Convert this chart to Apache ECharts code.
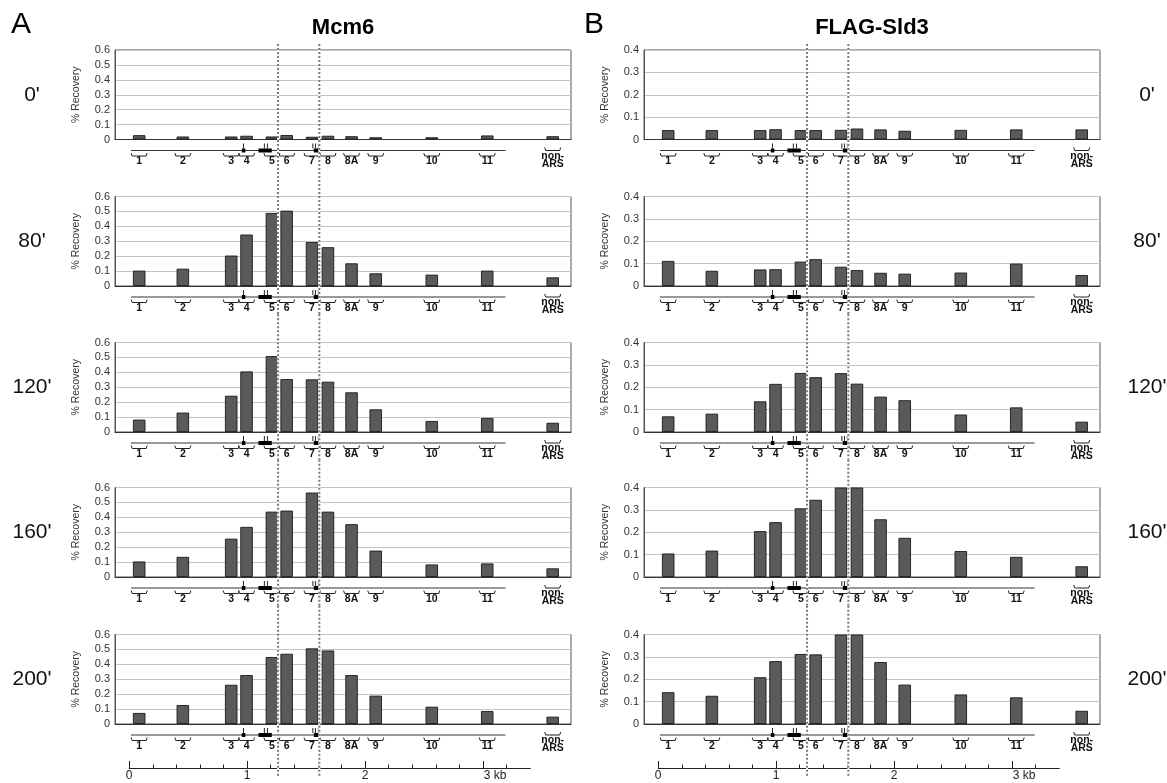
<!DOCTYPE html>
<html><head><meta charset="utf-8">
<script src="https://cdn.jsdelivr.net/npm/echarts@6/dist/echarts.min.js"></script>
<style>html,body{margin:0;padding:0;background:#fff}#c{width:1167px;height:783px}</style>
</head><body><div id="c"></div>
<script>
// ---------------- DATA ----------------
const primers = ['1','2','3','4','5','6','7','8','8A','9','10','11','non-\nARS'];
const primerKb = [0.085,0.455,0.865,0.995,1.21,1.335,1.55,1.685,1.885,2.09,2.565,3.035,3.59];
const timepoints = ["0'","80'","120'","160'","200'"];

const mcm6_0   = [0.029,0.020,0.020,0.025,0.020,0.030,0.018,0.025,0.022,0.015,0.015,0.027,0.022];
const mcm6_80  = [0.103,0.116,0.204,0.345,0.490,0.505,0.295,0.260,0.152,0.085,0.076,0.103,0.058];
const mcm6_120 = [0.083,0.130,0.243,0.406,0.509,0.355,0.353,0.337,0.266,0.152,0.074,0.094,0.062];
const mcm6_160 = [0.104,0.135,0.257,0.336,0.438,0.445,0.566,0.438,0.354,0.177,0.084,0.091,0.058];
const mcm6_200 = [0.074,0.127,0.263,0.328,0.449,0.471,0.507,0.493,0.328,0.190,0.116,0.087,0.049];

const sld3_0   = [0.042,0.042,0.042,0.046,0.042,0.042,0.043,0.049,0.045,0.039,0.043,0.045,0.045];
const sld3_80  = [0.112,0.068,0.074,0.075,0.109,0.120,0.086,0.071,0.059,0.055,0.060,0.100,0.049];
const sld3_120 = [0.070,0.082,0.137,0.215,0.264,0.245,0.263,0.216,0.158,0.142,0.078,0.110,0.046];
const sld3_160 = [0.105,0.118,0.205,0.245,0.307,0.345,0.400,0.400,0.258,0.175,0.116,0.090,0.048];
const sld3_200 = [0.142,0.126,0.209,0.281,0.313,0.311,0.400,0.400,0.277,0.176,0.132,0.119,0.059];

// genomic map features (kb)
const mapLineKb = [0.015, 3.19];
const arsBoxesKb = [[0.955,0.985],[1.096,1.209],[1.565,1.607]];
const arsMarksKb = [0.969,1.146,1.172,1.557,1.579,1.604];
const dottedKb = [1.262, 1.612];
const kbMajor = [0,1,2,3];
const kbMinor = [0.2,0.4,0.6,0.8,1.2,1.4,1.6,1.8,2.2,2.4,2.6,2.8,3.2];
const kbScaleMax = 3.4;

// ---------------- LAYOUT ----------------
const FONT = '"Liberation Sans", Arial, Helvetica, sans-serif';
const rowTops = [50, 196.5, 342.5, 487.5, 634.5];
const plotH = 89.5;
const colLeft = [115, 644];
const plotW = 456;
const kbMin = -0.12, kbMax = 3.745;
const pxPerKb = plotW / (kbMax - kbMin);

const mcmRows = [mcm6_0, mcm6_80, mcm6_120, mcm6_160, mcm6_200];
const sldRows = [sld3_0, sld3_80, sld3_120, sld3_160, sld3_200];

function renderMap(params, api) {
  const p0 = api.coord([mapLineKb[0], 0]);
  const p1 = api.coord([mapLineKb[1], 0]);
  const ly = p0[1] + 11;
  const ch = [{type:'line', shape:{x1:p0[0], y1:ly, x2:p1[0], y2:ly}, style:{stroke:'#333', lineWidth:1}}];
  arsBoxesKb.forEach(b => {
    const a = api.coord([b[0], 0])[0], e = api.coord([b[1], 0])[0];
    ch.push({type:'rect', shape:{x:a, y:ly-2, width:e-a, height:4}, style:{fill:'#000'}});
  });
  arsMarksKb.forEach(m => {
    const x = api.coord([m, 0])[0];
    ch.push({type:'line', shape:{x1:x, y1:p0[1]+4, x2:x, y2:ly-2}, style:{stroke:'#222', lineWidth:1}});
  });
  return {type:'group', children:ch};
}

function renderBracket(params, api) {
  const i = params.dataIndex;
  const p = api.coord([api.value(0), 0]);
  const x = p[0], y0 = p[1];
  const nonArs = i === primers.length - 1;
  const by = y0 + (nonArs ? 11 : 16.5);
  const hw = 8;
  return {type:'group', children:[
    {type:'polyline', shape:{points:[[x-hw, by-3],[x-hw+1, by],[x+hw-1, by],[x+hw, by-3]]},
     style:{stroke:'#222', lineWidth:1, fill:null}},
    {type:'text', x:x, y:by+1.5, style:{text:primers[i], font:'bold 10.5px ' + FONT, fill:'#111',
     align:'center', verticalAlign:'top', lineHeight:8}}
  ]};
}

function makeDot(r) {
  return function(params, api) {
    const x = api.coord([api.value(0), 0])[0];
    const top = rowTops[r], bottom = rowTops[r] + plotH;
    const yT = r === 0 ? top - 6 : (rowTops[r-1] + plotH + top) / 2;
    const yB = r === 4 ? bottom + 53 : (bottom + rowTops[r+1]) / 2;
    return {type:'group', children:[
      {type:'line', shape:{x1:x, y1:yT, x2:x, y2:yB}, style:{stroke:'#fff', lineWidth:2}},
      {type:'line', shape:{x1:x, y1:yT, x2:x, y2:yB}, style:{stroke:'#7a7a7a', lineWidth:2, lineDash:[2,2]}}
    ]};
  };
}

const grids = [], xAxes = [], yAxes = [], series = [];
for (let c = 0; c < 2; c++) {
  for (let r = 0; r < 5; r++) {
    const g = grids.length;
    grids.push({left:colLeft[c], top:rowTops[r], width:plotW, height:plotH, show:true,
      borderColor:'#555', borderWidth:1, backgroundColor:'transparent', containLabel:false, outerBoundsMode:'none'});
    xAxes.push({gridIndex:g, type:'value', min:kbMin, max:kbMax, position:'bottom',
      axisLine:{show:true, onZero:false, lineStyle:{color:'#333', width:1}}, axisTick:{show:false},
      axisLabel:{show:false}, splitLine:{show:false}});
    yAxes.push({gridIndex:g, type:'value', min:0, max:c ? 0.4 : 0.6, interval:0.1, position:'left',
      name:'% Recovery', nameLocation:'middle', nameRotate:90, nameGap:33,
      nameTextStyle:{fontFamily:FONT, fontSize:10.5, color:'#333'},
      axisLine:{show:true, onZero:false, lineStyle:{color:'#555'}}, axisTick:{show:false},
      axisLabel:{fontFamily:FONT, fontSize:11, color:'#333', margin:5},
      splitLine:{show:true, lineStyle:{color:'#c4c4c4', width:1}}});
    const vals = (c ? sldRows : mcmRows)[r];
    series.push({type:'bar', xAxisIndex:g, yAxisIndex:g, barWidth:12.5, silent:true, z:2,
      data:primerKb.map((x, i) => [x, vals[i]]),
      itemStyle:{color:'#5a5a5a', borderColor:'#1a1a1a', borderWidth:0.9}});
    series.push({type:'custom', xAxisIndex:g, yAxisIndex:g, clip:false, silent:true, z:3,
      data:[[mapLineKb[0], 0]], renderItem:renderMap});
    series.push({type:'custom', xAxisIndex:g, yAxisIndex:g, clip:false, silent:true, z:3,
      data:primerKb.map(x => [x, 0]), renderItem:renderBracket});
    series.push({type:'custom', xAxisIndex:g, yAxisIndex:g, clip:false, silent:true, z:5,
      data:dottedKb.map(x => [x, 0]), renderItem:makeDot(r)});
  }
}
// kb scale bars
for (let c = 0; c < 2; c++) {
  const g = grids.length;
  grids.push({left:colLeft[c] + (0 - kbMin) * pxPerKb, top:767, width:kbScaleMax * pxPerKb, height:1,
    show:false, containLabel:false, outerBoundsMode:'none'});
  xAxes.push({gridIndex:g, type:'value', position:'bottom', min:0, max:kbScaleMax,
    axisLine:{show:true, onZero:false, lineStyle:{color:'#222', width:1}},
    axisTick:{show:true, inside:true, length:7, customValues:kbMajor, lineStyle:{color:'#222'}},
    axisLabel:{show:true, customValues:kbMajor, margin:2, fontFamily:FONT, fontSize:12, color:'#222',
      formatter:v => v === 3 ? '{k|3 kb}' : String(v),
      rich:{k:{fontFamily:FONT, fontSize:12, color:'#222', padding:[0,0,0,24]}}},
    splitLine:{show:false}});
  xAxes.push({gridIndex:g, type:'value', position:'bottom', min:0, max:kbScaleMax,
    axisLine:{show:false},
    axisTick:{show:true, inside:true, length:3.5, customValues:kbMinor, lineStyle:{color:'#222'}},
    axisLabel:{show:false}, splitLine:{show:false}});
  yAxes.push({gridIndex:g, type:'value', show:false, min:0, max:1});
}

const graphics = [
  {type:'text', x:11, y:25, style:{text:'A', font:'30px ' + FONT, fill:'#000', verticalAlign:'middle'}},
  {type:'text', x:584, y:25, style:{text:'B', font:'30px ' + FONT, fill:'#000', verticalAlign:'middle'}},
  {type:'text', x:colLeft[0] + plotW/2, y:28, style:{text:'Mcm6', font:'bold 22px ' + FONT, fill:'#000', align:'center', verticalAlign:'middle'}},
  {type:'text', x:colLeft[1] + plotW/2, y:28, style:{text:'FLAG-Sld3', font:'bold 22px ' + FONT, fill:'#000', align:'center', verticalAlign:'middle'}}
];
timepoints.forEach((t, r) => {
  const yc = rowTops[r] + plotH/2;
  graphics.push({type:'text', x:32, y:yc, style:{text:t, font:'21px ' + FONT, fill:'#111', align:'center', verticalAlign:'middle'}});
  graphics.push({type:'text', x:1147, y:yc, style:{text:t, font:'21px ' + FONT, fill:'#111', align:'center', verticalAlign:'middle'}});
});

const chart = echarts.init(document.getElementById('c'), null, {renderer:'canvas'});
chart.setOption({
  animation:false,
  backgroundColor:'#fff',
  grid:grids, xAxis:xAxes, yAxis:yAxes, series:series,
  graphic:graphics
});
</script></body></html>
